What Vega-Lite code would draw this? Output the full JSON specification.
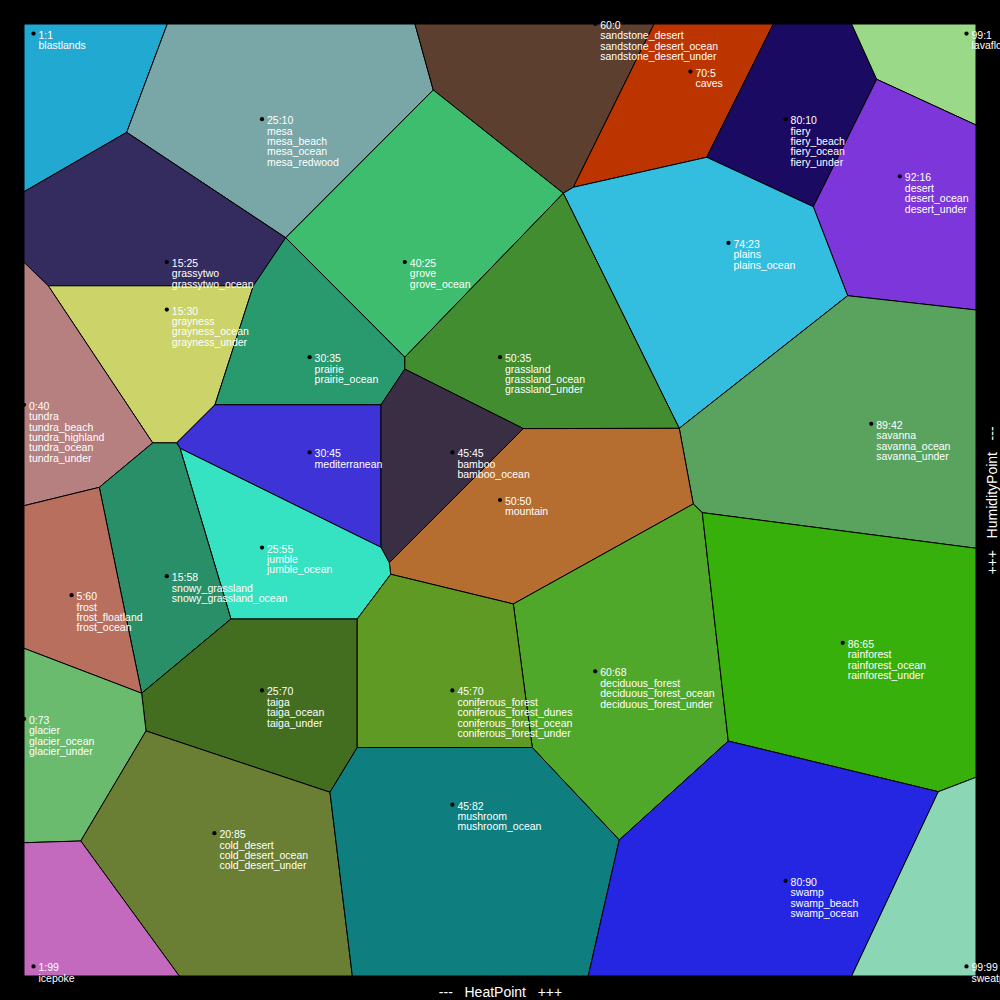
{
"$schema":"https://vega.github.io/schema/vega-lite/v6.json",
"width":952,"height":952,"autosize":"none",
"padding":{"left":24,"top":24,"right":24,"bottom":24},
"background":"black",
"config":{"view":{"stroke":null}},
"datasets":{
"cells":[
{"b":"blastlands","i":0,"heat":0,"humidity":0},{"b":"blastlands","i":1,"heat":15.05,"humidity":0},{"b":"blastlands","i":2,"heat":10.79,"humidity":11.38},{"b":"blastlands","i":3,"heat":0,"humidity":17.62},{"b":"blastlands","i":4,"heat":0,"humidity":0},
{"b":"mesa","i":0,"heat":15.05,"humidity":0},{"b":"mesa","i":1,"heat":41.07,"humidity":0},{"b":"mesa","i":2,"heat":42.99,"humidity":6.93},{"b":"mesa","i":3,"heat":27.49,"humidity":22.45},{"b":"mesa","i":4,"heat":10.79,"humidity":11.38},{"b":"mesa","i":5,"heat":15.05,"humidity":0},
{"b":"sandstone_desert","i":0,"heat":41.07,"humidity":0},{"b":"sandstone_desert","i":1,"heat":66.18,"humidity":0},{"b":"sandstone_desert","i":2,"heat":57.7,"humidity":17.15},{"b":"sandstone_desert","i":3,"heat":56.65,"humidity":17.78},{"b":"sandstone_desert","i":4,"heat":42.99,"humidity":6.93},{"b":"sandstone_desert","i":5,"heat":41.07,"humidity":0},
{"b":"caves","i":0,"heat":66.18,"humidity":0},{"b":"caves","i":1,"heat":78.71,"humidity":0},{"b":"caves","i":2,"heat":71.71,"humidity":14},{"b":"caves","i":3,"heat":57.7,"humidity":17.15},{"b":"caves","i":4,"heat":66.18,"humidity":0},
{"b":"fiery","i":0,"heat":78.71,"humidity":0},{"b":"fiery","i":1,"heat":86.94,"humidity":0},{"b":"fiery","i":2,"heat":89.57,"humidity":5.81},{"b":"fiery","i":3,"heat":82.91,"humidity":19.19},{"b":"fiery","i":4,"heat":71.71,"humidity":14},{"b":"fiery","i":5,"heat":78.71,"humidity":0},
{"b":"lavaflow","i":0,"heat":86.94,"humidity":0},{"b":"lavaflow","i":1,"heat":100,"humidity":0},{"b":"lavaflow","i":2,"heat":100,"humidity":10.61},{"b":"lavaflow","i":3,"heat":89.57,"humidity":5.81},{"b":"lavaflow","i":4,"heat":86.94,"humidity":0},
{"b":"desert","i":0,"heat":89.57,"humidity":5.81},{"b":"desert","i":1,"heat":100,"humidity":10.61},{"b":"desert","i":2,"heat":100,"humidity":30.04},{"b":"desert","i":3,"heat":86.52,"humidity":28.54},{"b":"desert","i":4,"heat":82.91,"humidity":19.19},{"b":"desert","i":5,"heat":89.57,"humidity":5.81},
{"b":"plains","i":0,"heat":57.7,"humidity":17.15},{"b":"plains","i":1,"heat":71.71,"humidity":14},{"b":"plains","i":2,"heat":82.91,"humidity":19.19},{"b":"plains","i":3,"heat":86.52,"humidity":28.54},{"b":"plains","i":4,"heat":68.83,"humidity":42.47},{"b":"plains","i":5,"heat":56.65,"humidity":17.78},{"b":"plains","i":6,"heat":57.7,"humidity":17.15},
{"b":"grove","i":0,"heat":42.99,"humidity":6.93},{"b":"grove","i":1,"heat":56.65,"humidity":17.78},{"b":"grove","i":2,"heat":40,"humidity":35},{"b":"grove","i":3,"heat":27.49,"humidity":22.45},{"b":"grove","i":4,"heat":42.99,"humidity":6.93},
{"b":"grassytwo","i":0,"heat":0,"humidity":17.62},{"b":"grassytwo","i":1,"heat":10.79,"humidity":11.38},{"b":"grassytwo","i":2,"heat":27.49,"humidity":22.45},{"b":"grassytwo","i":3,"heat":24.09,"humidity":27.5},{"b":"grassytwo","i":4,"heat":2.55,"humidity":27.5},{"b":"grassytwo","i":5,"heat":0,"humidity":25.03},{"b":"grassytwo","i":6,"heat":0,"humidity":17.62},
{"b":"grayness","i":0,"heat":2.55,"humidity":27.5},{"b":"grayness","i":1,"heat":24.09,"humidity":27.5},{"b":"grayness","i":2,"heat":20.06,"humidity":40},{"b":"grayness","i":3,"heat":16.04,"humidity":44},{"b":"grayness","i":4,"heat":13.52,"humidity":44},{"b":"grayness","i":5,"heat":2.55,"humidity":27.5},
{"b":"prairie","i":0,"heat":27.49,"humidity":22.45},{"b":"prairie","i":1,"heat":40,"humidity":35},{"b":"prairie","i":2,"heat":40,"humidity":36.25},{"b":"prairie","i":3,"heat":37.5,"humidity":40},{"b":"prairie","i":4,"heat":20.06,"humidity":40},{"b":"prairie","i":5,"heat":24.09,"humidity":27.5},{"b":"prairie","i":6,"heat":27.49,"humidity":22.45},
{"b":"grassland","i":0,"heat":56.65,"humidity":17.78},{"b":"grassland","i":1,"heat":68.83,"humidity":42.47},{"b":"grassland","i":2,"heat":52.45,"humidity":42.5},{"b":"grassland","i":3,"heat":40,"humidity":36.25},{"b":"grassland","i":4,"heat":40,"humidity":35},{"b":"grassland","i":5,"heat":56.65,"humidity":17.78},
{"b":"tundra","i":0,"heat":0,"humidity":25.03},{"b":"tundra","i":1,"heat":2.55,"humidity":27.5},{"b":"tundra","i":2,"heat":13.52,"humidity":44},{"b":"tundra","i":3,"heat":7.91,"humidity":48.67},{"b":"tundra","i":4,"heat":0,"humidity":50.6},{"b":"tundra","i":5,"heat":0,"humidity":25.03},
{"b":"savanna","i":0,"heat":86.52,"humidity":28.54},{"b":"savanna","i":1,"heat":100,"humidity":30.04},{"b":"savanna","i":2,"heat":100,"humidity":55.07},{"b":"savanna","i":3,"heat":71.25,"humidity":51.33},{"b":"savanna","i":4,"heat":70.3,"humidity":50.42},{"b":"savanna","i":5,"heat":68.83,"humidity":42.47},{"b":"savanna","i":6,"heat":86.52,"humidity":28.54},
{"b":"mediterranean","i":0,"heat":20.06,"humidity":40},{"b":"mediterranean","i":1,"heat":37.5,"humidity":40},{"b":"mediterranean","i":2,"heat":37.5,"humidity":54.97},{"b":"mediterranean","i":3,"heat":16.39,"humidity":44.57},{"b":"mediterranean","i":4,"heat":16.04,"humidity":44},{"b":"mediterranean","i":5,"heat":20.06,"humidity":40},
{"b":"bamboo","i":0,"heat":40,"humidity":36.25},{"b":"bamboo","i":1,"heat":52.45,"humidity":42.5},{"b":"bamboo","i":2,"heat":38.37,"humidity":56.59},{"b":"bamboo","i":3,"heat":37.5,"humidity":54.97},{"b":"bamboo","i":4,"heat":37.5,"humidity":40},{"b":"bamboo","i":5,"heat":40,"humidity":36.25},
{"b":"mountain","i":0,"heat":52.45,"humidity":42.5},{"b":"mountain","i":1,"heat":68.83,"humidity":42.47},{"b":"mountain","i":2,"heat":70.3,"humidity":50.42},{"b":"mountain","i":3,"heat":51.4,"humidity":60.92},{"b":"mountain","i":4,"heat":38.52,"humidity":57.8},{"b":"mountain","i":5,"heat":38.37,"humidity":56.59},{"b":"mountain","i":6,"heat":52.45,"humidity":42.5},
{"b":"jumble","i":0,"heat":16.39,"humidity":44.57},{"b":"jumble","i":1,"heat":37.5,"humidity":54.97},{"b":"jumble","i":2,"heat":38.37,"humidity":56.59},{"b":"jumble","i":3,"heat":38.52,"humidity":57.8},{"b":"jumble","i":4,"heat":35,"humidity":62.5},{"b":"jumble","i":5,"heat":21.74,"humidity":62.5},{"b":"jumble","i":6,"heat":16.39,"humidity":44.57},
{"b":"snowy_grassland","i":0,"heat":13.52,"humidity":44},{"b":"snowy_grassland","i":1,"heat":16.04,"humidity":44},{"b":"snowy_grassland","i":2,"heat":16.39,"humidity":44.57},{"b":"snowy_grassland","i":3,"heat":21.74,"humidity":62.5},{"b":"snowy_grassland","i":4,"heat":12.36,"humidity":70.3},{"b":"snowy_grassland","i":5,"heat":7.91,"humidity":48.67},{"b":"snowy_grassland","i":6,"heat":13.52,"humidity":44},
{"b":"frost","i":0,"heat":0,"humidity":50.6},{"b":"frost","i":1,"heat":7.91,"humidity":48.67},{"b":"frost","i":2,"heat":12.36,"humidity":70.3},{"b":"frost","i":3,"heat":0,"humidity":65.58},{"b":"frost","i":4,"heat":0,"humidity":50.6},
{"b":"deciduous_forest","i":0,"heat":70.3,"humidity":50.42},{"b":"deciduous_forest","i":1,"heat":71.25,"humidity":51.33},{"b":"deciduous_forest","i":2,"heat":73.98,"humidity":75.32},{"b":"deciduous_forest","i":3,"heat":62.53,"humidity":85.71},{"b":"deciduous_forest","i":4,"heat":53.39,"humidity":76},{"b":"deciduous_forest","i":5,"heat":51.4,"humidity":60.92},{"b":"deciduous_forest","i":6,"heat":70.3,"humidity":50.42},
{"b":"rainforest","i":0,"heat":71.25,"humidity":51.33},{"b":"rainforest","i":1,"heat":100,"humidity":55.07},{"b":"rainforest","i":2,"heat":100,"humidity":79.13},{"b":"rainforest","i":3,"heat":96.04,"humidity":80.64},{"b":"rainforest","i":4,"heat":73.98,"humidity":75.32},{"b":"rainforest","i":5,"heat":71.25,"humidity":51.33},
{"b":"taiga","i":0,"heat":21.74,"humidity":62.5},{"b":"taiga","i":1,"heat":35,"humidity":62.5},{"b":"taiga","i":2,"heat":35,"humidity":76},{"b":"taiga","i":3,"heat":32.14,"humidity":80.7},{"b":"taiga","i":4,"heat":12.82,"humidity":74.26},{"b":"taiga","i":5,"heat":12.36,"humidity":70.3},{"b":"taiga","i":6,"heat":21.74,"humidity":62.5},
{"b":"coniferous_forest","i":0,"heat":35,"humidity":62.5},{"b":"coniferous_forest","i":1,"heat":38.52,"humidity":57.8},{"b":"coniferous_forest","i":2,"heat":51.4,"humidity":60.92},{"b":"coniferous_forest","i":3,"heat":53.39,"humidity":76},{"b":"coniferous_forest","i":4,"heat":35,"humidity":76},{"b":"coniferous_forest","i":5,"heat":35,"humidity":62.5},
{"b":"glacier","i":0,"heat":0,"humidity":65.58},{"b":"glacier","i":1,"heat":12.36,"humidity":70.3},{"b":"glacier","i":2,"heat":12.82,"humidity":74.26},{"b":"glacier","i":3,"heat":5.96,"humidity":85.82},{"b":"glacier","i":4,"heat":0,"humidity":86},{"b":"glacier","i":5,"heat":0,"humidity":65.58},
{"b":"cold_desert","i":0,"heat":12.82,"humidity":74.26},{"b":"cold_desert","i":1,"heat":32.14,"humidity":80.7},{"b":"cold_desert","i":2,"heat":34.49,"humidity":100},{"b":"cold_desert","i":3,"heat":16.31,"humidity":100},{"b":"cold_desert","i":4,"heat":5.96,"humidity":85.82},{"b":"cold_desert","i":5,"heat":12.82,"humidity":74.26},
{"b":"mushroom","i":0,"heat":35,"humidity":76},{"b":"mushroom","i":1,"heat":53.39,"humidity":76},{"b":"mushroom","i":2,"heat":62.53,"humidity":85.71},{"b":"mushroom","i":3,"heat":59.27,"humidity":100},{"b":"mushroom","i":4,"heat":34.49,"humidity":100},{"b":"mushroom","i":5,"heat":32.14,"humidity":80.7},{"b":"mushroom","i":6,"heat":35,"humidity":76},
{"b":"swamp","i":0,"heat":73.98,"humidity":75.32},{"b":"swamp","i":1,"heat":96.04,"humidity":80.64},{"b":"swamp","i":2,"heat":86.94,"humidity":100},{"b":"swamp","i":3,"heat":59.27,"humidity":100},{"b":"swamp","i":4,"heat":62.53,"humidity":85.71},{"b":"swamp","i":5,"heat":73.98,"humidity":75.32},
{"b":"icepoke","i":0,"heat":0,"humidity":86},{"b":"icepoke","i":1,"heat":5.96,"humidity":85.82},{"b":"icepoke","i":2,"heat":16.31,"humidity":100},{"b":"icepoke","i":3,"heat":0,"humidity":100},{"b":"icepoke","i":4,"heat":0,"humidity":86},
{"b":"sweatpea","i":0,"heat":96.04,"humidity":80.64},{"b":"sweatpea","i":1,"heat":100,"humidity":79.13},{"b":"sweatpea","i":2,"heat":100,"humidity":100},{"b":"sweatpea","i":3,"heat":86.94,"humidity":100},{"b":"sweatpea","i":4,"heat":96.04,"humidity":80.64}
],
"sites":[
{"heat":1,"humidity":1,"t":["1:1","blastlands"]},
{"heat":25,"humidity":10,"t":["25:10","mesa","mesa_beach","mesa_ocean","mesa_redwood"]},
{"heat":60,"humidity":0,"t":["60:0","sandstone_desert","sandstone_desert_ocean","sandstone_desert_under"]},
{"heat":70,"humidity":5,"t":["70:5","caves"]},
{"heat":80,"humidity":10,"t":["80:10","fiery","fiery_beach","fiery_ocean","fiery_under"]},
{"heat":99,"humidity":1,"t":["99:1","lavaflow"]},
{"heat":92,"humidity":16,"t":["92:16","desert","desert_ocean","desert_under"]},
{"heat":74,"humidity":23,"t":["74:23","plains","plains_ocean"]},
{"heat":40,"humidity":25,"t":["40:25","grove","grove_ocean"]},
{"heat":15,"humidity":25,"t":["15:25","grassytwo","grassytwo_ocean"]},
{"heat":15,"humidity":30,"t":["15:30","grayness","grayness_ocean","grayness_under"]},
{"heat":30,"humidity":35,"t":["30:35","prairie","prairie_ocean"]},
{"heat":50,"humidity":35,"t":["50:35","grassland","grassland_ocean","grassland_under"]},
{"heat":0,"humidity":40,"t":["0:40","tundra","tundra_beach","tundra_highland","tundra_ocean","tundra_under"]},
{"heat":89,"humidity":42,"t":["89:42","savanna","savanna_ocean","savanna_under"]},
{"heat":30,"humidity":45,"t":["30:45","mediterranean"]},
{"heat":45,"humidity":45,"t":["45:45","bamboo","bamboo_ocean"]},
{"heat":50,"humidity":50,"t":["50:50","mountain"]},
{"heat":25,"humidity":55,"t":["25:55","jumble","jumble_ocean"]},
{"heat":15,"humidity":58,"t":["15:58","snowy_grassland","snowy_grassland_ocean"]},
{"heat":5,"humidity":60,"t":["5:60","frost","frost_floatland","frost_ocean"]},
{"heat":60,"humidity":68,"t":["60:68","deciduous_forest","deciduous_forest_ocean","deciduous_forest_under"]},
{"heat":86,"humidity":65,"t":["86:65","rainforest","rainforest_ocean","rainforest_under"]},
{"heat":25,"humidity":70,"t":["25:70","taiga","taiga_ocean","taiga_under"]},
{"heat":45,"humidity":70,"t":["45:70","coniferous_forest","coniferous_forest_dunes","coniferous_forest_ocean","coniferous_forest_under"]},
{"heat":0,"humidity":73,"t":["0:73","glacier","glacier_ocean","glacier_under"]},
{"heat":20,"humidity":85,"t":["20:85","cold_desert","cold_desert_ocean","cold_desert_under"]},
{"heat":45,"humidity":82,"t":["45:82","mushroom","mushroom_ocean"]},
{"heat":80,"humidity":90,"t":["80:90","swamp","swamp_beach","swamp_ocean"]},
{"heat":1,"humidity":99,"t":["1:99","icepoke"]},
{"heat":99,"humidity":99,"t":["99:99","sweatpea"]}
]},
"encoding":{
"x":{"field":"heat","type":"quantitative","scale":{"domain":[0,100],"nice":false,"zero":false},
"axis":{"orient":"bottom","labels":false,"ticks":false,"domain":false,"grid":false,"title":"---\u00a0\u00a0\u00a0HeatPoint\u00a0\u00a0\u00a0+++","titleColor":"white","titleFont":"Liberation Sans","titleFontSize":14,"titleFontWeight":"normal","titlePadding":9,"titleBaseline":"top","minExtent":0}},
"y":{"field":"humidity","type":"quantitative","scale":{"domain":[0,100],"nice":false,"zero":false,"reverse":true},
"axis":{"orient":"right","labels":false,"ticks":false,"domain":false,"grid":false,"title":"+++\u00a0\u00a0\u00a0HumidityPoint\u00a0\u00a0\u00a0---","titleColor":"white","titleFont":"Liberation Sans","titleFontSize":14,"titleFontWeight":"normal","titlePadding":9,"titleAngle":270,"titleBaseline":"top","minExtent":0}}
},
"layer":[
{"data":{"name":"cells"},
"mark":{"type":"line","stroke":"black","strokeWidth":1,"fillOpacity":1},
"encoding":{
"order":{"field":"i","type":"quantitative"},
"detail":{"field":"b","type":"nominal"},
"fill":{"field":"b","type":"nominal","legend":null,"scale":{
"domain":["blastlands","mesa","sandstone_desert","caves","fiery","lavaflow","desert","plains","grove","grassytwo","grayness","prairie","grassland","tundra","savanna","mediterranean","bamboo","mountain","jumble","snowy_grassland","frost","deciduous_forest","rainforest","taiga","coniferous_forest","glacier","cold_desert","mushroom","swamp","icepoke","sweatpea"],
"range":["#22a9d1","#79a6a6","#5c3f2f","#bc3500","#1b0a62","#9ad987","#7d36d9","#33bee0","#3ebd6e","#342c5e","#cbd369","#289a6d","#418d2f","#b78080","#5aa35f","#3e33d6","#3a2e45","#b56d30","#35e2c1","#288f68","#b86f5e","#50a82b","#37b00c","#446e1f","#5f9a24","#6bbb6e","#6a7f34","#0e7f7e","#2426e2","#c36abf","#8ad6b5"]}}
}},
{"data":{"name":"sites"},
"mark":{"type":"point","filled":true,"color":"black","size":18,"opacity":1}},
{"data":{"name":"sites"},
"mark":{"type":"text","color":"white","font":"Liberation Sans","fontSize":10.5,"lineHeight":10.4,"align":"left","baseline":"top","dx":5,"dy":-3},
"encoding":{"text":{"field":"t"}}}
]
}
